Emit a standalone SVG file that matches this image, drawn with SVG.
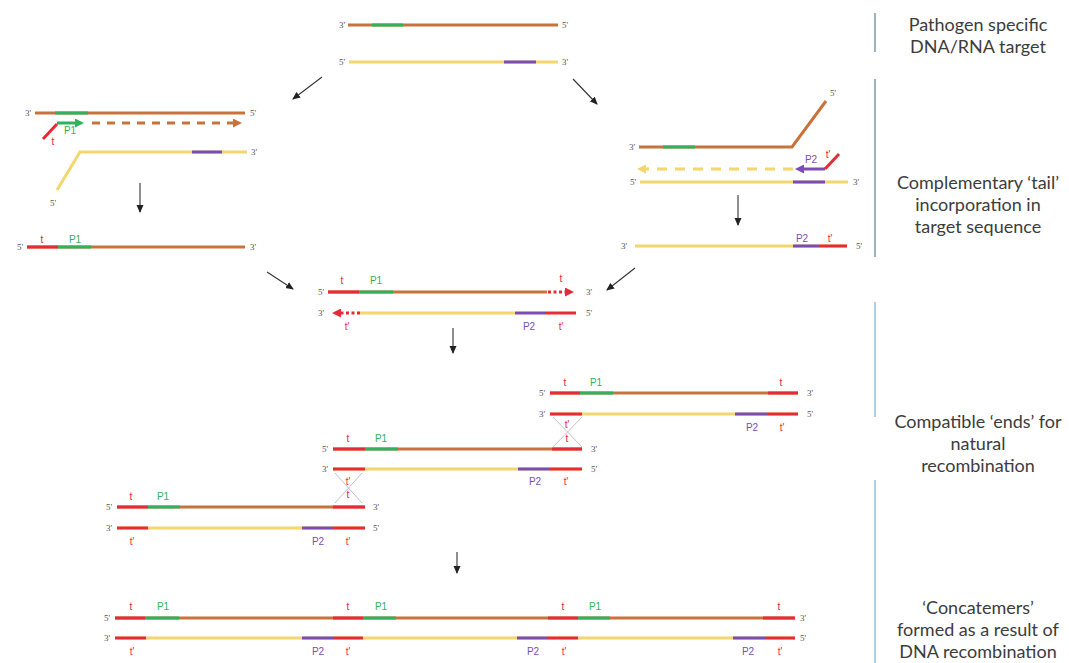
<svg xmlns="http://www.w3.org/2000/svg" width="1069" height="663" viewBox="0 0 1069 663">
<style>
line,polyline{fill:none}
.br{stroke:#c8733b;stroke-width:3}
.gr{stroke:#2fb25b;stroke-width:3}
.ye{stroke:#f3d66c;stroke-width:3}
.pu{stroke:#7b4db3;stroke-width:3}
.rd{stroke:#e42c36;stroke-width:3}
.ar{stroke:#333;stroke-width:1.1}
.xl{stroke:#c4c4c4;stroke-width:1}
.sep1{stroke:#9fb0bf;stroke-width:2}
.sep2{stroke:#aed0e6;stroke-width:2}
.e{font-family:"Liberation Serif",serif;font-size:9px;fill:#555}
.l{font-family:"Liberation Sans",sans-serif;font-size:10px;text-anchor:middle}
.lt{fill:#e42c36}.lp{fill:#2fb25b}.lq{fill:#7b4db3}
.d{font-family:Lato,"Open Sans","Liberation Sans",sans-serif;font-size:18px;fill:#3c3c3c;text-anchor:middle}
</style>
<defs>
<marker id="mk" markerUnits="userSpaceOnUse" markerWidth="8" markerHeight="8" refX="7" refY="4" orient="auto"><path d="M0,0.5 L8,4 L0,7.5 Z" fill="#222"/></marker>
<marker id="mbr" markerUnits="userSpaceOnUse" markerWidth="9" markerHeight="9" refX="5" refY="4.5" orient="auto"><path d="M0,0 L9,4.5 L0,9 Z" fill="#c8733b"/></marker>
<marker id="mgr" markerUnits="userSpaceOnUse" markerWidth="9" markerHeight="9" refX="5" refY="4.5" orient="auto"><path d="M0,0 L9,4.5 L0,9 Z" fill="#2fb25b"/></marker>
<marker id="mye" markerUnits="userSpaceOnUse" markerWidth="9" markerHeight="9" refX="5" refY="4.5" orient="auto"><path d="M0,0 L9,4.5 L0,9 Z" fill="#f3d66c"/></marker>
<marker id="mpu" markerUnits="userSpaceOnUse" markerWidth="9" markerHeight="9" refX="5" refY="4.5" orient="auto"><path d="M0,0 L9,4.5 L0,9 Z" fill="#7b4db3"/></marker>
<marker id="mrd" markerUnits="userSpaceOnUse" markerWidth="9" markerHeight="9" refX="5" refY="4.5" orient="auto"><path d="M0,0 L9,4.5 L0,9 Z" fill="#e42c36"/></marker>
</defs>

<g id="connectors">
<line class="ar" x1="322" y1="77" x2="293" y2="99" marker-end="url(#mk)"/>
<line class="ar" x1="573" y1="79" x2="597" y2="104" marker-end="url(#mk)"/>
<line class="ar" x1="140" y1="183" x2="140" y2="212" marker-end="url(#mk)"/>
<line class="ar" x1="738" y1="195" x2="738" y2="225" marker-end="url(#mk)"/>
<line class="ar" x1="267" y1="272" x2="293" y2="289" marker-end="url(#mk)"/>
<line class="ar" x1="635" y1="268" x2="607" y2="290" marker-end="url(#mk)"/>
<line class="ar" x1="453" y1="328" x2="453" y2="353" marker-end="url(#mk)"/>
<line class="ar" x1="457" y1="552" x2="457" y2="573" marker-end="url(#mk)"/>
</g>

<g id="target">
<line class="br" x1="348" y1="25" x2="558" y2="25"/>
<line class="gr" x1="372" y1="25" x2="403" y2="25"/>
<line class="ye" x1="349" y1="62" x2="558" y2="62"/>
<line class="pu" x1="504" y1="62" x2="536" y2="62"/>
<text class="e" x="345" y="28" text-anchor="end">3'</text>
<text class="e" x="562" y="28">5'</text>
<text class="e" x="345" y="65" text-anchor="end">5'</text>
<text class="e" x="562" y="65">3'</text>
</g>

<g id="left-priming">
<line class="br" x1="35" y1="113" x2="245" y2="113"/>
<line class="gr" x1="55" y1="113" x2="88" y2="113"/>
<text class="e" x="31" y="116" text-anchor="end">3'</text>
<text class="e" x="250" y="116">5'</text>
<line class="rd" x1="43" y1="139" x2="57" y2="124"/>
<line class="gr" x1="57" y1="123" x2="80" y2="123" marker-end="url(#mgr)"/>
<line class="br" x1="92" y1="123" x2="238" y2="123" stroke-dasharray="8 7" marker-end="url(#mbr)"/>
<text class="l lp" x="70" y="134">P1</text>
<text class="l lt" x="53" y="145">t</text>
<polyline class="ye" points="57,190 80,152 247,152"/>
<line class="pu" x1="192" y1="152" x2="222" y2="152"/>
<text class="e" x="251" y="155">3'</text>
<text class="e" x="50" y="206">5'</text>
</g>

<g id="left-product">
<line class="br" x1="27" y1="247" x2="245" y2="247"/>
<line class="rd" x1="27" y1="247" x2="58" y2="247"/>
<line class="gr" x1="58" y1="247" x2="91" y2="247"/>
<text class="e" x="23" y="250" text-anchor="end">5'</text>
<text class="e" x="250" y="250">3'</text>
<text class="l lt" x="42" y="243">t</text>
<text class="l lp" x="75" y="243">P1</text>
</g>

<g id="right-priming">
<polyline class="br" points="639,147 792,147 826,101"/>
<line class="gr" x1="663" y1="147" x2="695" y2="147"/>
<text class="e" x="635" y="150" text-anchor="end">3'</text>
<text class="e" x="830" y="96">5'</text>
<line class="ye" x1="793" y1="169" x2="641" y2="169" stroke-dasharray="10 8" marker-end="url(#mye)"/>
<line class="pu" x1="825" y1="169" x2="799" y2="169" marker-end="url(#mpu)"/>
<line class="rd" x1="825" y1="169" x2="839" y2="154"/>
<text class="l lq" x="811" y="163">P2</text>
<text class="l lt" x="828" y="158">t'</text>
<line class="ye" x1="640" y1="182" x2="848" y2="182"/>
<line class="pu" x1="793" y1="182" x2="825" y2="182"/>
<text class="e" x="636" y="185" text-anchor="end">5'</text>
<text class="e" x="853" y="185">3'</text>
</g>

<g id="right-product">
<line class="ye" x1="635" y1="246" x2="847" y2="246"/>
<line class="pu" x1="793" y1="246" x2="820" y2="246"/>
<line class="rd" x1="820" y1="246" x2="847" y2="246"/>
<text class="e" x="627" y="249" text-anchor="end">3'</text>
<text class="e" x="856" y="249">5'</text>
<text class="l lq" x="802" y="242">P2</text>
<text class="l lt" x="830" y="242">t'</text>
</g>

<g id="tailed-duplex">
<line class="br" x1="328" y1="292" x2="547" y2="292"/>
<line class="rd" x1="328" y1="292" x2="359" y2="292"/>
<line class="gr" x1="359" y1="292" x2="393" y2="292"/>
<line class="rd" x1="548" y1="292" x2="570" y2="292" stroke-dasharray="3 2.5" marker-end="url(#mrd)"/>
<text class="e" x="324" y="295" text-anchor="end">5'</text>
<text class="e" x="586" y="295">3'</text>
<text class="l lt" x="342" y="284">t</text>
<text class="l lp" x="376" y="284">P1</text>
<text class="l lt" x="561" y="282">t</text>
<line class="ye" x1="360" y1="313" x2="515" y2="313"/>
<line class="pu" x1="515" y1="313" x2="545" y2="313"/>
<line class="rd" x1="545" y1="313" x2="576" y2="313"/>
<line class="rd" x1="360" y1="313" x2="336" y2="313" stroke-dasharray="3 2.5" marker-end="url(#mrd)"/>
<text class="e" x="324" y="316" text-anchor="end">3'</text>
<text class="e" x="586" y="316">5'</text>
<text class="l lt" x="347" y="330">t'</text>
<text class="l lq" x="529" y="330">P2</text>
<text class="l lt" x="561" y="330">t'</text>
</g>

<g id="copy-a">
<line class="br" x1="550" y1="393" x2="798" y2="393"/>
<line class="rd" x1="550" y1="393" x2="580" y2="393"/>
<line class="gr" x1="580" y1="393" x2="613" y2="393"/>
<line class="rd" x1="768" y1="393" x2="798" y2="393"/>
<text class="e" x="545" y="396" text-anchor="end">5'</text>
<text class="e" x="807" y="396">3'</text>
<text class="l lt" x="565" y="386">t</text>
<text class="l lp" x="596" y="386">P1</text>
<text class="l lt" x="781" y="386">t</text>
<line class="ye" x1="550" y1="414" x2="798" y2="414"/>
<line class="rd" x1="550" y1="414" x2="582" y2="414"/>
<line class="pu" x1="735" y1="414" x2="767" y2="414"/>
<line class="rd" x1="767" y1="414" x2="798" y2="414"/>
<text class="e" x="545" y="417" text-anchor="end">3'</text>
<text class="e" x="807" y="417">5'</text>
<text class="l lq" x="752" y="431">P2</text>
<text class="l lt" x="782" y="431">t'</text>
</g>

<g id="crossover-1">
<line class="xl" x1="553" y1="417" x2="582" y2="447"/>
<line class="xl" x1="582" y1="417" x2="553" y2="447"/>
<text class="l lt" x="567" y="428">t'</text>
<text class="l lt" x="567" y="442">t</text>
</g>

<g id="copy-b">
<line class="br" x1="333" y1="449" x2="582" y2="449"/>
<line class="rd" x1="333" y1="449" x2="365" y2="449"/>
<line class="gr" x1="365" y1="449" x2="398" y2="449"/>
<line class="rd" x1="552" y1="449" x2="582" y2="449"/>
<text class="e" x="328" y="452" text-anchor="end">5'</text>
<text class="e" x="591" y="452">3'</text>
<text class="l lt" x="348" y="442">t</text>
<text class="l lp" x="381" y="442">P1</text>
<line class="ye" x1="333" y1="469" x2="582" y2="469"/>
<line class="rd" x1="333" y1="469" x2="365" y2="469"/>
<line class="pu" x1="518" y1="469" x2="550" y2="469"/>
<line class="rd" x1="550" y1="469" x2="582" y2="469"/>
<text class="e" x="328" y="472" text-anchor="end">3'</text>
<text class="e" x="591" y="472">5'</text>
<text class="l lq" x="535" y="485">P2</text>
<text class="l lt" x="566" y="485">t'</text>
</g>

<g id="crossover-2">
<line class="xl" x1="335" y1="473" x2="362" y2="503"/>
<line class="xl" x1="362" y1="473" x2="335" y2="503"/>
<text class="l lt" x="348" y="485">t'</text>
<text class="l lt" x="348" y="498">t</text>
</g>

<g id="copy-c">
<line class="br" x1="117" y1="507" x2="365" y2="507"/>
<line class="rd" x1="117" y1="507" x2="148" y2="507"/>
<line class="gr" x1="148" y1="507" x2="180" y2="507"/>
<line class="rd" x1="333" y1="507" x2="365" y2="507"/>
<text class="e" x="112" y="510" text-anchor="end">5'</text>
<text class="e" x="373" y="510">3'</text>
<text class="l lt" x="131" y="500">t</text>
<text class="l lp" x="163" y="500">P1</text>
<line class="ye" x1="117" y1="528" x2="365" y2="528"/>
<line class="rd" x1="117" y1="528" x2="148" y2="528"/>
<line class="pu" x1="302" y1="528" x2="333" y2="528"/>
<line class="rd" x1="333" y1="528" x2="365" y2="528"/>
<text class="e" x="112" y="531" text-anchor="end">3'</text>
<text class="e" x="373" y="531">5'</text>
<text class="l lt" x="132" y="545">t'</text>
<text class="l lq" x="318" y="545">P2</text>
<text class="l lt" x="348" y="545">t'</text>
</g>

<g id="concatemer">
<line class="br" x1="115" y1="618" x2="795" y2="618"/>
<line class="rd" x1="115" y1="618" x2="145" y2="618"/>
<line class="gr" x1="145" y1="618" x2="179" y2="618"/>
<line class="rd" x1="333" y1="618" x2="363" y2="618"/>
<line class="gr" x1="363" y1="618" x2="396" y2="618"/>
<line class="rd" x1="548" y1="618" x2="578" y2="618"/>
<line class="gr" x1="578" y1="618" x2="610" y2="618"/>
<line class="rd" x1="763" y1="618" x2="795" y2="618"/>
<text class="e" x="110" y="621" text-anchor="end">5'</text>
<text class="e" x="800" y="621">3'</text>
<text class="l lt" x="131" y="610">t</text>
<text class="l lp" x="163" y="610">P1</text>
<text class="l lt" x="348" y="610">t</text>
<text class="l lp" x="381" y="610">P1</text>
<text class="l lt" x="563" y="610">t</text>
<text class="l lp" x="595" y="610">P1</text>
<text class="l lt" x="779" y="610">t</text>
<line class="ye" x1="115" y1="638" x2="795" y2="638"/>
<line class="rd" x1="115" y1="638" x2="146" y2="638"/>
<line class="pu" x1="302" y1="638" x2="333" y2="638"/>
<line class="rd" x1="333" y1="638" x2="363" y2="638"/>
<line class="pu" x1="517" y1="638" x2="548" y2="638"/>
<line class="rd" x1="548" y1="638" x2="578" y2="638"/>
<line class="pu" x1="733" y1="638" x2="765" y2="638"/>
<line class="rd" x1="765" y1="638" x2="795" y2="638"/>
<text class="e" x="110" y="641" text-anchor="end">3'</text>
<text class="e" x="800" y="641">5'</text>
<text class="l lt" x="132" y="655">t'</text>
<text class="l lq" x="318" y="655">P2</text>
<text class="l lt" x="348" y="655">t'</text>
<text class="l lq" x="533" y="655">P2</text>
<text class="l lt" x="564" y="655">t'</text>
<text class="l lq" x="748" y="655">P2</text>
<text class="l lt" x="780" y="655">t'</text>
</g>

<g id="stage-labels">
<line class="sep1" x1="875" y1="13" x2="875" y2="52"/>
<text class="d" x="978" y="31">Pathogen specific</text>
<text class="d" x="978" y="53">DNA/RNA target</text>
<line class="sep1" x1="875" y1="79" x2="875" y2="257"/>
<text class="d" x="978" y="189">Complementary ‘tail’</text>
<text class="d" x="978" y="211">incorporation in</text>
<text class="d" x="978" y="233">target sequence</text>
<line class="sep2" x1="875" y1="302" x2="875" y2="417"/>
<text class="d" x="978" y="428">Compatible ‘ends’ for</text>
<text class="d" x="978" y="450">natural</text>
<text class="d" x="978" y="472">recombination</text>
<line class="sep2" x1="875" y1="480" x2="875" y2="663"/>
<text class="d" x="978" y="614">‘Concatemers’</text>
<text class="d" x="978" y="636">formed as a result of</text>
<text class="d" x="978" y="658">DNA recombination</text>
</g>
</svg>
